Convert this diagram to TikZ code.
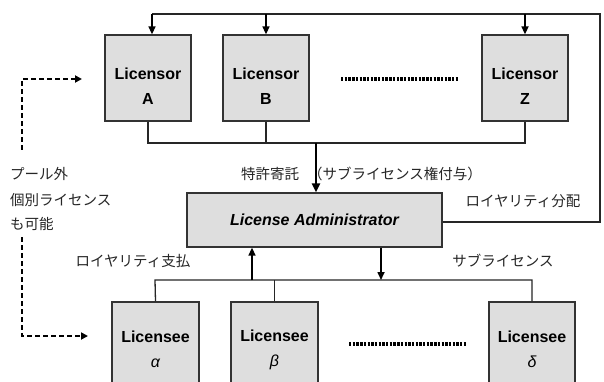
\documentclass[tikz,border=0pt]{standalone}
\usepackage{fontspec}
\setmainfont{Liberation Sans}
\newfontfamily\jp{Noto Sans CJK JP}
\usetikzlibrary{arrows.meta}
\begin{document}
\begin{tikzpicture}[x=1pt,y=-1pt,
  box/.style={draw=black!80,line width=1.3pt,fill=black!13,inner sep=0pt},
  btxt/.style={font=\fontsize{16}{25}\selectfont\bfseries,align=center,inner sep=0pt},
  jl/.style={font=\jp\fontsize{14.5}{16}\selectfont,inner sep=0pt,text=black!85},
  bus/.style={line width=1.3pt,draw=black!85},
  arr/.style={line width=1.6pt,-{Triangle[length=8pt,width=7pt]}},
  thickarr/.style={line width=2.6pt,-{Triangle[length=9pt,width=8pt]}},
  dasharr/.style={line width=2.3pt,dash pattern=on 5pt off 3pt,-{Triangle[length=7pt,width=7pt]}},
  dots/.style={line width=3.2pt,dash pattern=on 2.4pt off 1.3pt}]
\clip (0,0) rectangle (604,382);
\fill[white] (0,0) rectangle (604,382);
% licensors
\node[box,minimum width=86pt,minimum height=86pt] (la) at (148,78) {};
\node[box,minimum width=86pt,minimum height=86pt] (lb) at (266,78) {};
\node[box,minimum width=86pt,minimum height=86pt] (lz) at (525,78) {};
\node[btxt] (lat) at (148,86.5) {Licensor\\A};
\node[btxt] (lbt) at (266,86.5) {Licensor\\B};
\node[btxt] (lzt) at (525,86.5) {Licensor\\Z};
% administrator
\node[box,minimum width=255pt,minimum height=54pt] (adm) at (314.5,220) {};
\node[font=\fontsize{16}{20}\selectfont\bfseries\itshape,inner sep=0pt] (admt) at (314.5,220) {License Administrator};
% licensees
\node[box,minimum width=87pt,minimum height=86pt] (ea) at (155.5,345) {};
\node[box,minimum width=87pt,minimum height=86pt] (eb) at (274.5,345) {};
\node[box,minimum width=86pt,minimum height=86pt] (ed) at (532,345) {};
\node[btxt] (eat) at (155.5,349.5) {Licensee\\\mdseries\itshape α};
\node[btxt] (ebt) at (274.5,349.5) {Licensee\\\mdseries\itshape β};
\node[btxt] (edt) at (532,349.5) {Licensee\\\mdseries\itshape δ};
% dotted separators
\coordinate (d1s) at (341,79); \coordinate (d1e) at (459,79);
\draw[dots] (d1s) -- (d1e);
\coordinate (d2s) at (349,344); \coordinate (d2e) at (467,344);
\draw[dots] (d2s) -- (d2e);
% top feedback bus
\coordinate (tA) at (152,14);
\coordinate (tB) at (266,14);
\coordinate (tZ) at (525,14);
\coordinate (tR) at (600,14);
\coordinate (rR) at (600,222);
\draw[bus] (adm.east |- rR) -- (rR) -- (tR) -- (tA);
\draw[arr] (tA) -- (tA |- la.north);
\draw[arr] (tB) -- (lb.north);
\draw[arr] (tZ) -- (lz.north);
% licensor collection bus
\coordinate (bA) at (148,143);
\coordinate (bZ) at (525,143);
\coordinate (bM) at (316,143);
\draw[bus] (la.south) -- (bA) -- (bZ) -- (lz.south);
\draw[bus] (lb.south) -- (lb.south |- bA);
\draw[thickarr] (bM) -- (bM |- adm.north);
% licensee bus
\coordinate (cA) at (155,280);
\coordinate (cD) at (532,280);
\coordinate (cUp) at (252,280);
\coordinate (cDn) at (381,280);
\draw[bus] (ea.north) -- (cA) -- (cD) -- (ed.north);
\draw[bus] (eb.north) -- (eb.north |- cA);
\draw[arr] (cUp) -- (cUp |- adm.south);
\draw[arr] (cDn |- adm.south) -- (cDn);
% dashed arrows
\coordinate (ds1) at (22,150); \coordinate (dc1) at (22,79); \coordinate (de1) at (82,79);
\draw[dasharr] (ds1) -- (dc1) -- (de1);
\coordinate (ds2) at (22,237); \coordinate (dc2) at (22,336); \coordinate (de2) at (88,336);
\draw[dasharr] (ds2) -- (dc2) -- (de2);
% labels
\node[jl] (j1) at (270,174) {特許寄託};
\node[jl] (j2) at (395,174) {（サブライセンス権付与）};
\node[jl] (j3) at (523,201) {ロイヤリティ分配};
\node[jl] (j4) at (133,261) {ロイヤリティ支払};
\node[jl] (j5) at (503,261) {サブライセンス};
\node[jl,anchor=west] (j6) at (10,174) {プール外};
\node[jl,anchor=west] (j7) at (10,200) {個別ライセンス};
\node[jl,anchor=west] (j8) at (10,224) {も可能};
\end{tikzpicture}
\end{document}
